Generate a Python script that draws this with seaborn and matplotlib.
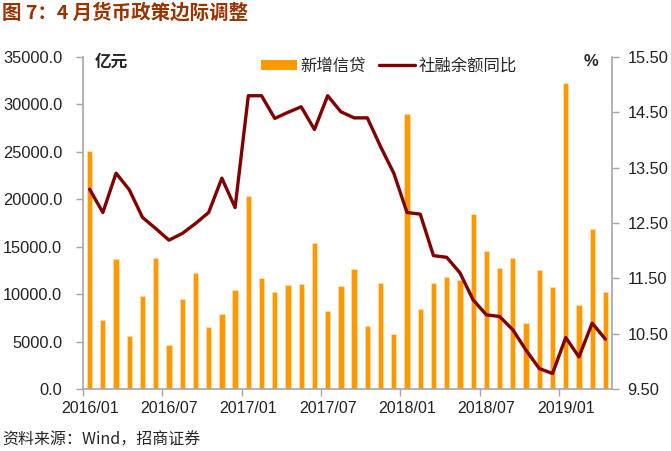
import numpy as np
import pandas as pd
import matplotlib
matplotlib.use("Agg")
import matplotlib.pyplot as plt
import seaborn as sns
from matplotlib.patches import Patch
from matplotlib.lines import Line2D
from matplotlib.ticker import FixedLocator, FuncFormatter

# 月份 2016/01 - 2019/04
months = [f"{y}/{m:02d}" for y in (2016, 2017, 2018, 2019) for m in range(1, 13)][:40]

# 新增信贷（亿元）
new_loans = [25100, 7266, 13700, 5556, 9855, 13800, 4636, 9487, 12200, 6513, 7946, 10400,
             20300, 11700, 10200, 11000, 11100, 15400, 8255, 10900, 12700, 6632, 11200, 5844,
             29000, 8393, 11200, 11800, 11500, 18400, 14500, 12800, 13800, 6970, 12500, 10800,
             32300, 8858, 16900, 10200]

# 社融余额同比（%）
tsf_yoy = [13.11, 12.69, 13.40, 13.10, 12.60, 12.40, 12.19, 12.31, 12.49, 12.69, 13.31, 12.78,
           14.80, 14.80, 14.39, 14.50, 14.60, 14.19, 14.80, 14.51, 14.40, 14.40, 13.88, 13.40,
           12.69, 12.66, 11.91, 11.88, 11.60, 11.11, 10.84, 10.81, 10.57, 10.20, 9.87, 9.78,
           10.43, 10.08, 10.69, 10.40]

tick_months = ["2016/01", "2016/07", "2017/01", "2017/07", "2018/01", "2018/07", "2019/01"]

df = pd.DataFrame({"月份": months, "新增信贷": new_loans, "社融余额同比": tsf_yoy})
df["pos"] = np.arange(len(df))

sns.set_style("white")
plt.rcParams['font.family'] = ['Liberation Sans', 'Noto Sans CJK SC', 'DejaVu Sans']
plt.rcParams['axes.unicode_minus'] = False

bar_color = "#FF9900"
line_color = "#800000"
axis_gray = "#A6A6A6"
tick_size = 11.8

fig = plt.figure(figsize=(6.71, 4.51), dpi=100)
ax = fig.add_axes([0.1237, 0.1375, 0.9121 - 0.1237, 0.8736 - 0.1375])

sns.barplot(data=df, x="pos", y="新增信贷", color=bar_color, width=0.4,
            edgecolor="#FFE0B0", linewidth=0.5, saturation=1, ax=ax, native_scale=True)
ax.set_xlim(-0.5, len(df) - 0.5)
ax.set_ylim(0, 35000)
ax.set_yticks(np.arange(0, 35001, 5000))
ax.yaxis.set_major_formatter(FuncFormatter(lambda v, p: f"{v:.1f}"))

ax2 = ax.twinx()
sns.lineplot(data=df, x="pos", y="社融余额同比", color=line_color, lw=2.4, ax=ax2)
ax2.set_ylim(9.5, 15.5)
ax2.set_yticks(np.arange(9.5, 15.51, 1.0))
ax2.yaxis.set_major_formatter(FuncFormatter(lambda v, p: f"{v:.2f}"))
ax2.set_xlim(-0.5, len(df) - 0.5)

# x 轴：刻度在类别边界，标签在类别中心
label_pos = [months.index(m) for m in tick_months]
ax.xaxis.set_major_locator(FixedLocator([p - 0.5 for p in label_pos]))
ax.xaxis.set_major_formatter(FuncFormatter(lambda v, p: ""))
ax.set_xticks(label_pos, minor=True)
ax.set_xticklabels(tick_months, minor=True)

for a in (ax, ax2):
    a.set_xlabel("")
    a.set_ylabel("")
    a.grid(False)
    for s in a.spines.values():
        s.set_visible(False)

ax.spines["left"].set_visible(True)
ax.spines["bottom"].set_visible(True)
ax2.spines["right"].set_visible(True)
for s in (ax.spines["left"], ax.spines["bottom"], ax2.spines["right"]):
    s.set_color(axis_gray)
    s.set_linewidth(1.2)

ax.tick_params(axis="y", which="major", direction="out", length=5, width=1, color=axis_gray,
               labelsize=tick_size, labelcolor="#222222", pad=10, left=True)
ax.tick_params(axis="x", which="major", direction="out", length=5, width=1, color=axis_gray,
               bottom=True)
ax.tick_params(axis="x", which="minor", length=0, labelsize=11.5, labelcolor="#222222", pad=9)
ax2.tick_params(axis="y", direction="out", length=5, width=1, color=axis_gray,
                labelsize=tick_size, labelcolor="#222222", pad=6, right=True)

ax2.set_zorder(ax.get_zorder() + 1)
ax2.patch.set_visible(False)

# 单位
fig.text(95 / 671, 1 - 62 / 451, "亿元", fontsize=12, fontweight="bold",
         family=['Noto Sans CJK SC'], va="center", ha="left")
fig.text(591 / 671, 1 - 62 / 451, "%", fontsize=12, fontweight="bold",
         va="center", ha="center")

# 图例
handles = [Patch(facecolor=bar_color, edgecolor="none"),
           Line2D([0], [0], color=line_color, lw=2.4)]
fig.legend(handles, ["新增信贷", "社融余额同比"], loc="center left",
           bbox_to_anchor=(261 / 671, 1 - 66 / 451), ncol=2, frameon=False,
           prop={"family": ['Noto Sans CJK SC'], "size": 11.8},
           handlelength=2.2, handleheight=0.55, handletextpad=0.2, columnspacing=0.8,
           borderaxespad=0, borderpad=0)

# 标题与来源
fig.text(2 / 671, 1 - 13 / 451, "图 7：4 月货币政策边际调整", fontsize=14, fontweight="bold",
         color="#993300", family=['Noto Sans CJK SC'], va="center", ha="left")
fig.text(2 / 671, 1 - 440 / 451, "资料来源：Wind，招商证券", fontsize=11.5,
         family=['Noto Sans CJK SC', 'Liberation Sans'], va="center", ha="left")

fig.savefig("out.png", dpi=100)
